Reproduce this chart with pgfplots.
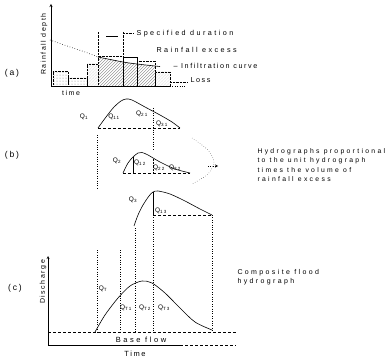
\documentclass[border=0pt]{standalone}
\usepackage{pgfplots}
\pgfplotsset{compat=1.18}
\usepackage{fontspec}
\setmainfont{Liberation Sans}[LetterSpace=22]
\newfontfamily\wide{Liberation Sans}[LetterSpace=34]
\usetikzlibrary{patterns}
\newcommand{\Q}[1]{Q\textsubscript{#1}}
\begin{document}
\begin{tikzpicture}
\begin{axis}[scale only axis, width=391pt, height=360pt,
  xmin=0, xmax=391, ymin=0, ymax=360, y dir=reverse,
  hide axis, clip=false]
\addplot[draw=none] coordinates {(0,0) (391,360)};
% ---------------- panel (a) ----------------
\addplot[densely dotted, pattern=dots, pattern color=gray] coordinates {(53,86) (53,71) (68,71) (68,86)} -- cycle;
\addplot[densely dotted, pattern=dots, pattern color=gray] coordinates {(68,86) (68,78) (87,78) (87,86)} -- cycle;
\addplot[densely dotted, pattern=north east lines, pattern color=gray] coordinates {(87,86) (87,64) (98,64) (98,86)} -- cycle;
\addplot[densely dotted, pattern=north east lines, pattern color=gray] coordinates {(155,86) (155,72) (170,72) (170,86)} -- cycle;
\addplot[draw=none, pattern=north east lines, pattern color=gray] coordinates {(98,86) (98,57) (123,62) (123,86)} -- cycle;
\addplot[draw=none, pattern=north east lines, pattern color=gray] coordinates {(123,86) (123,62) (137,64) (137,86)} -- cycle;
\addplot[draw=none, pattern=north east lines, pattern color=gray] coordinates {(137,86) (137,64) (155,66) (155,86)} -- cycle;
\addplot[densely dotted] coordinates {(98,86) (98,56) (123,56) (123,86)};
\addplot[thin] coordinates {(123,86) (123,57) (137,57) (137,86)};
\addplot[densely dotted] coordinates {(137,86) (137,61) (155,61) (155,86)};
\addplot[dotted, semithick, smooth] coordinates {(50,40) (70,47) (85,52) (98,57)};
\addplot[semithick, smooth] coordinates {(98,57) (123,62) (137,64) (155,66) (160,66.5)};
\addplot[-stealth] coordinates {(51,86) (51,4)};
\addplot[semithick] coordinates {(51,86) (170,86)};
\addplot[dotted] coordinates {(170,86) (186,86)};
\addplot[densely dotted] coordinates {(98,56) (98,32)};
\addplot[densely dotted] coordinates {(123,56) (123,32)};
\addplot[thin] coordinates {(106,36) (118,36)};
\addplot[densely dotted] coordinates {(123,33) (133,33)};
\addplot[densely dotted] coordinates {(170,82) (188,82)};
\node[anchor=west, font=\wide\fontsize{7.2}{8}\selectfont] at (axis cs:133,34) {Specified duration};
\node[anchor=west, font=\wide\fontsize{7.2}{8}\selectfont] at (axis cs:153,50) {Rainfall excess};
\node[anchor=west, font=\fontsize{7.2}{8}\selectfont] at (axis cs:170,66) {-- Infiltration curve};
\node[anchor=west, font=\fontsize{7.2}{8}\selectfont] at (axis cs:187,80) {Loss};
\node[rotate=90, font=\fontsize{7}{8}\selectfont] at (axis cs:44,44) {Rainfall depth};
\node[font=\fontsize{7}{8}\selectfont] at (axis cs:71,93) {time};
\node[font=\fontsize{8.5}{9}\selectfont] at (axis cs:12,73) {(a)};
% ---------------- panel (b) ----------------
\addplot[smooth, semithick] coordinates {(98,128) (106,117) (114,107) (121,101) (126,99) (132,100) (145,107) (160,115) (172,122) (180,128)};
\addplot[densely dashed] coordinates {(98,128) (180,128)};
\node[font=\fontsize{6.5}{7}\selectfont] at (axis cs:84,117) {\Q{1}};
\node[font=\fontsize{6.5}{7}\selectfont] at (axis cs:114,117) {\Q{11}};
\node[font=\fontsize{6.5}{7}\selectfont] at (axis cs:142,114) {\Q{21}};
\node[font=\fontsize{6.5}{7}\selectfont] at (axis cs:162,124) {\Q{31}};
\addplot[smooth, semithick] coordinates {(123,173) (128,163) (133,157) (138,153) (142,152.5) (148,155) (160,162) (175,169) (190,173)};
\addplot[densely dashed] coordinates {(123,173) (190,173)};
\addplot[thin] coordinates {(133,157) (133,173)};
\addplot[densely dotted] coordinates {(153,159) (153,173)};
\node[font=\fontsize{6.5}{7}\selectfont] at (axis cs:117,161) {\Q{2}};
\node[font=\fontsize{6.5}{7}\selectfont] at (axis cs:140,163) {\Q{12}};
\node[font=\fontsize{6.5}{7}\selectfont] at (axis cs:159,168) {\Q{22}};
\node[font=\fontsize{6.5}{7}\selectfont] at (axis cs:175,168) {\Q{32}};
\addplot[smooth, semithick] coordinates {(134,226) (138,215) (143,205) (149,196) (153,192) (158,191) (170,194) (185,201) (200,209) (212,215)};
\addplot[densely dashed] coordinates {(153,215) (212,215)};
\addplot[thin] coordinates {(153,192) (153,215)};
\node[font=\fontsize{6.5}{7}\selectfont] at (axis cs:133,200) {\Q{3}};
\node[font=\fontsize{6.5}{7}\selectfont] at (axis cs:161,211) {\Q{13}};
\addplot[dotted] coordinates {(97,135) (97,190)};
\addplot[dotted] coordinates {(153,108) (153,150)};
\addplot[dotted] coordinates {(97,250) (97,332)};
\addplot[dotted] coordinates {(120,250) (120,332)};
\addplot[dotted] coordinates {(135,228) (135,332)};
\addplot[dotted] coordinates {(153,215) (153,332)};
\addplot[dotted] coordinates {(212,215) (212,332)};
\addplot[dotted, smooth] coordinates {(192,138) (208,150) (214,162) (208,174) (192,184)};
\addplot[dotted, -stealth] coordinates {(208,166) (218,166)};
\node[anchor=west, font=\wide\fontsize{6.8}{7}\selectfont] at (axis cs:254,152) {Hydrographs proportional};
\node[anchor=west, font=\wide\fontsize{6.8}{7}\selectfont] at (axis cs:254,161) {to the unit hydrograph};
\node[anchor=west, font=\wide\fontsize{6.8}{7}\selectfont] at (axis cs:254,170) {times the volume of};
\node[anchor=west, font=\wide\fontsize{6.8}{7}\selectfont] at (axis cs:254,179) {rainfall excess};
\node[font=\fontsize{8.5}{9}\selectfont] at (axis cs:12,155) {(b)};
% ---------------- panel (c) ----------------
\addplot[-stealth] coordinates {(48,345) (48,256)};
\addplot[semithick] coordinates {(48,345) (180,345)};
\addplot[densely dashed] coordinates {(180,345) (236,345)};
\addplot[densely dashed] coordinates {(48,332) (236,332)};
\addplot[smooth, semithick] coordinates {(95,332) (105,315) (118,298) (130,286) (142,281) (152,283) (165,293) (180,308) (195,322) (212,330)};
\node[rotate=90, font=\fontsize{7}{8}\selectfont] at (axis cs:43,282) {Discharge};
\node[font=\fontsize{6.5}{7}\selectfont] at (axis cs:103,289) {\Q{T}};
\node[font=\fontsize{6.5}{7}\selectfont] at (axis cs:126,308) {\Q{T1}};
\node[font=\fontsize{6.5}{7}\selectfont] at (axis cs:145,308) {\Q{T2}};
\node[font=\fontsize{6.5}{7}\selectfont] at (axis cs:164,308) {\Q{T3}};
\node[font=\wide\fontsize{7.5}{9}\selectfont] at (axis cs:141,340) {Base flow};
\node[font=\fontsize{7.5}{8}\selectfont] at (axis cs:135,354) {Time};
\node[anchor=west, font=\wide\fontsize{7}{8}\selectfont] at (axis cs:234,273) {Composite flood};
\node[anchor=west, font=\wide\fontsize{7}{8}\selectfont] at (axis cs:234,282) {hydrograph};
\node[font=\fontsize{8.5}{9}\selectfont] at (axis cs:15,288) {(c)};
\end{axis}
\end{tikzpicture}
\end{document}
